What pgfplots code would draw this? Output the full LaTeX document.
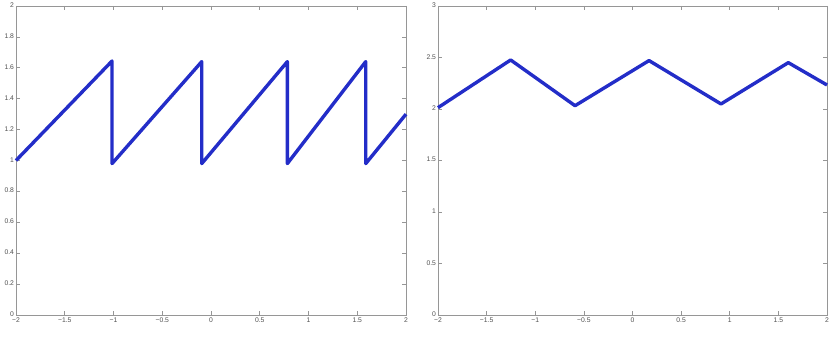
\documentclass[border=0pt]{standalone}
\usepackage{pgfplots}
\pgfplotsset{compat=1.18}
\usepackage{fontspec}
\setmainfont{Liberation Sans}
\definecolor{axgray}{RGB}{150,150,150}
\definecolor{txtgray}{RGB}{80,80,80}
\definecolor{lineblue}{RGB}{35,45,200}
\pgfplotsset{
  mystyle/.style={
    scale only axis,
    anchor=south west,
    axis line style={axgray, line width=0.9bp},
    every tick/.style={axgray, line width=0.6bp},
    major tick length=4bp,
    tick align=inside,
    tick pos=both,
    ticklabel style={font=\fontsize{6.8}{7}\selectfont, text=txtgray},
    /pgf/number format/assume math mode=true,
    xmin=-2, xmax=2,
    xtick={-2,-1.5,...,2},
    xticklabels={\textminus2,\textminus1.5,\textminus1,\textminus0.5,0,0.5,1,1.5,2},
    xticklabel style={yshift=0.5bp},
    yticklabel style={xshift=1.5bp, yshift=0.8bp},
    clip=false,
  }
}
\begin{document}
\begin{tikzpicture}[x=1bp,y=1bp]
\path[use as bounding box] (0,0) rectangle (840,337);
\begin{axis}[mystyle, at={(16bp,22bp)}, width=390bp, height=309bp,
  ymin=0, ymax=2, ytick={0,0.2,...,2},
  yticklabels={0,0.2,0.4,0.6,0.8,1,1.2,1.4,1.6,1.8,2}]
\addplot[lineblue, line width=3.4bp, line join=round] coordinates {
(-2,1.0) (-1.015,1.644) (-1.015,0.98) (-0.095,1.64) (-0.095,0.98)
(0.783,1.64) (0.783,0.98) (1.587,1.64) (1.587,0.98) (2,1.30)};
\end{axis}
\begin{axis}[mystyle, at={(438bp,22bp)}, width=389bp, height=309bp,
  ymin=0, ymax=3, ytick={0,0.5,...,3},
  yticklabels={0,0.5,1,1.5,2,2.5,3}]
\addplot[lineblue, line width=3.4bp, line join=round] coordinates {
(-2,2.013) (-1.253,2.476) (-0.591,2.032) (0.170,2.47) (0.910,2.049) (1.602,2.45) (2,2.233)};
\end{axis}
\end{tikzpicture}
\end{document}
